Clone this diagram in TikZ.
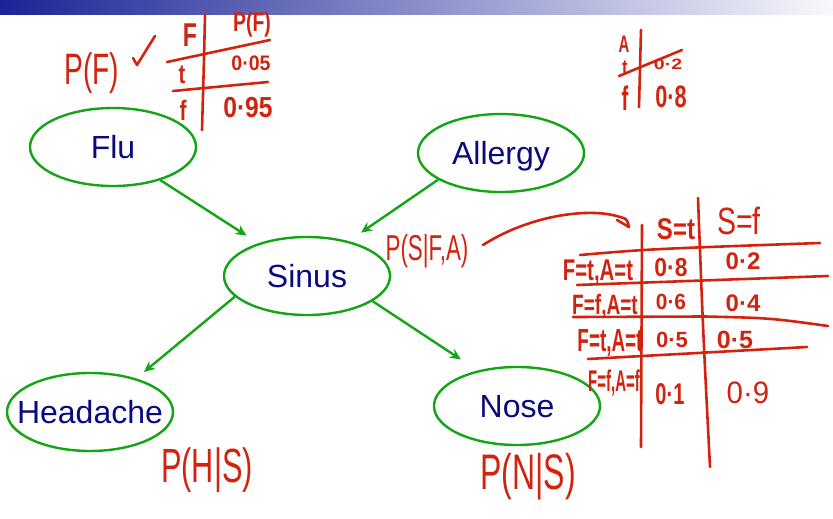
\documentclass[tikz,border=0pt]{standalone}
\usepackage{fontspec}
\setmainfont{Liberation Sans}
\usetikzlibrary{shapes.geometric,arrows.meta}
\definecolor{navy}{RGB}{10,10,128}
\definecolor{ngreen}{RGB}{20,165,20}
\definecolor{hred}{RGB}{210,35,15}
\definecolor{barblue}{RGB}{26,36,150}
\definecolor{barend}{RGB}{248,248,252}
\newcommand{\hwt}[3]{\scalebox{#2}[1]{\fontsize{#1}{#1}\selectfont #3}}
\newcommand{\hwb}[3]{\scalebox{#2}[1]{\fontsize{#1}{#1}\selectfont\bfseries #3}}
\tikzset{
 bn/.style={ellipse, draw=ngreen, line width=2.4pt, minimum width=166pt, minimum height=78pt, inner sep=0pt},
 lbl/.style={text=navy, font=\fontsize{32}{32}\selectfont, inner sep=0pt, text height=23pt, text depth=0pt},
 arr/.style={draw=ngreen, line width=2.4pt, -{Stealth[length=11pt,width=10pt]}},
 hw/.style={text=hred, inner sep=0pt},
 ink/.style={draw=hred, line width=2.6pt, line cap=round, line join=round},
}
\begin{document}
\begin{tikzpicture}[x=1pt,y=-1pt]
\useasboundingbox (0,0) rectangle (833,519);
\shade[left color=barblue, right color=barend] (0,0) rectangle (833,15);

% Bayes net
\node[bn, label={[lbl]center:Flu}] (flu) at (113,147) {};
\node[bn, label={[lbl]center:Allergy}] (allergy) at (501,153) {};
\node[bn, label={[lbl]center:Sinus}] (sinus) at (307,276) {};
\node[bn, label={[lbl]center:Headache}] (headache) at (90,412) {};
\node[bn, label={[lbl]center:Nose}] (nose) at (517,406) {};
\draw[arr, shorten >=14pt] (flu.-35) -- (sinus.146);
\draw[arr, shorten >=15pt] (allergy.203) -- (sinus.40);
\draw[arr, shorten >=10pt] (sinus.196) -- (headache.36);
\draw[arr, shorten >=20pt] (sinus.-21) -- (nose.138);

% P(F) table
\node[hw] (pf) at (92,73) {\hwt{44}{0.64}{P(F)}};
\draw[ink] (133,58) -- (137,65) -- (155,36);
\draw[ink] (205,15) .. controls (204,60) .. (202,130);
\node[hw] at (190,35) {\hwb{33}{0.7}{F}};
\node[hw] at (252,25) {\hwb{27}{0.72}{P(F)}};
\draw[ink] (167,62) -- (270,40);
\node[hw] at (182,75) {\hwb{27}{0.75}{t}};
\node[hw] at (251,63) {\hwb{21}{0.93}{0·05}};
\draw[ink] (173,91) -- (268,82);
\node[hw] at (183,110) {\hwb{28}{0.75}{f}};
\node[hw] at (248,108) {\hwb{29}{0.85}{0·95}};

% P(A) table
\draw[ink] (641,30) -- (639,107);
\node[hw] at (624,44) {\hwb{24}{0.62}{A}};
\draw[ink] (619,76) -- (682,50);
\node[hw] at (625,68) {\hwb{21}{0.8}{t}};
\node[hw] at (668,64) {\hwb{15}{1.3}{0·2}};
\node[hw] at (625,98) {\hwb{34}{0.6}{f}};
\node[hw] at (671,97) {\hwb{31}{0.7}{0·8}};

% P(S|F,A) table
\node[hw] (psfa) at (427,251) {\hwt{36}{0.62}{P(S|F,A)}};
\coordinate (cs) at (483,245);
\coordinate (cend) at (629,227);
\draw[ink] (cs) .. controls (530,215) and (590,207) .. (620,217) .. controls (627,219) .. (cend);
\draw[ink] (617,220) -- (cend);
\draw[ink] (642,225) -- (641,447);
\draw[ink] (698,198) .. controls (703,330) .. (710,467);
\node[hw] at (676,229) {\hwb{30}{0.8}{S=t}};
\node[hw] at (739,221) {\hwt{38}{0.75}{S=f}};
\draw[ink] (580,255) .. controls (650,249) .. (820,243);
\node[hw] at (598,272) {\hwb{30}{0.68}{F=t,A=t}};
\node[hw] at (671,268) {\hwb{26}{0.88}{0·8}};
\node[hw] at (743,261) {\hwb{24}{1}{0·2}};
\draw[ink] (577,285) -- (828,276);
\node[hw] at (605,307) {\hwb{28}{0.68}{F=f,A=t}};
\node[hw] at (671,302) {\hwb{22}{0.95}{0·6}};
\node[hw] at (743,303) {\hwb{24}{1}{0·4}};
\draw[ink] (573,317) -- (705,316.5) .. controls (770,318) .. (828,326);
\node[hw] at (610,343) {\hwb{32}{0.59}{F=t,A=t}};
\node[hw] at (672,340) {\hwb{22}{1}{0·5}};
\node[hw] at (735,340) {\hwb{25}{1}{0·5}};
\draw[ink] (588,359) -- (807,347);
\node[hw] at (614,383) {\hwb{30}{0.5}{F=f,A=f}};
\node[hw] at (670,394) {\hwb{30}{0.67}{0·1}};
\node[hw] at (748,393) {\hwt{31}{0.95}{0·9}};

% P(H|S), P(N|S)
\node[hw] at (207,470) {\hwt{48}{0.64}{P(H|S)}};
\node[hw] at (528,477) {\hwt{50}{0.64}{P(N|S)}};
\end{tikzpicture}
\end{document}
